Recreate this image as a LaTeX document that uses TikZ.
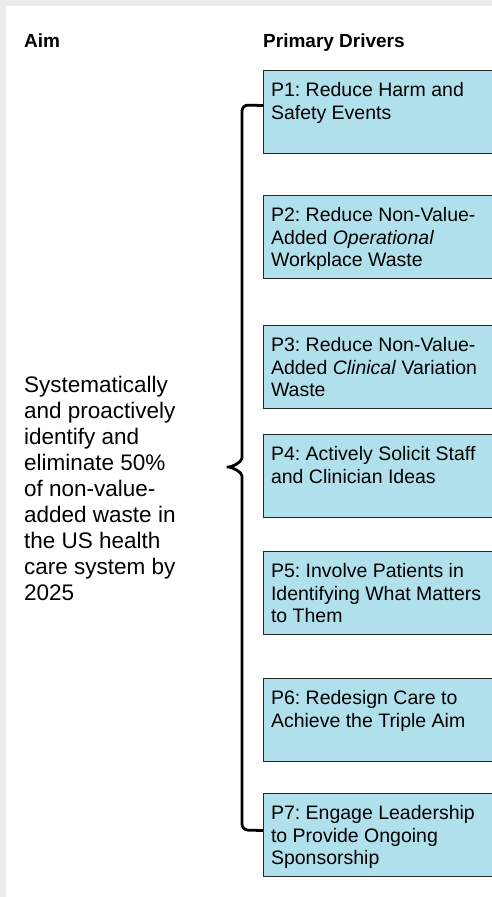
\documentclass[tikz,border=0pt]{standalone}
\usepackage{fontspec}
\setmainfont{Liberation Sans}
\usepackage{tikz}
\usetikzlibrary{positioning}
\definecolor{drvblue}{RGB}{176,224,235}
\definecolor{edgegrey}{RGB}{236,236,236}
\newcommand{\drvtext}[1]{\parbox[t][59pt][t]{225pt}{\raggedright #1}}
\frenchspacing

\begin{document}
\begin{tikzpicture}[x=1pt,y=-1pt,
    head/.style={anchor=base west,inner sep=0pt,font=\fontsize{19}{22}\selectfont\bfseries},
    aimtext/.style={anchor=north west,inner sep=0pt,align=left,font=\fontsize{22.5}{26}\selectfont},
    drv/.style={draw=black!85,fill=drvblue,line width=1pt,anchor=north west,inner xsep=7pt,inner ysep=12pt,minimum width=240pt,font=\fontsize{19.5}{22.5}\selectfont},
    brace/.style={line width=2.8pt,rounded corners=6pt}]
  \useasboundingbox (0,0) rectangle (492,897);
  \clip (0,0) rectangle (492,897);
  \fill[edgegrey] (0,0) rectangle (492,897);
  \fill[white] (6,6) rectangle (492,897);
  % headings
  \node[head] (hdAim) at (24,47) {Aim};
  \node[head] (hdDrv) at (263,47) {Primary Drivers};
  % aim
  \node[aimtext] (aim) at (24,375.5) {Systematically\\and proactively\\identify and\\eliminate 50\%\\of non-value-\\added waste in\\the US health\\care system by\\2025};
  % primary drivers
  \node[drv] (p1) at (263,70) {\drvtext{P1: Reduce Harm and\\Safety Events}};
  \node[drv] (p2) at (263,195) {\drvtext{P2: Reduce Non-Value-\\Added \textit{Operational}\\Workplace Waste}};
  \node[drv] (p3) at (263,325) {\drvtext{P3: Reduce Non-Value-\\Added \textit{Clinical} Variation\\Waste}};
  \node[drv] (p4) at (263,434) {\drvtext{P4: Actively Solicit Staff\\and Clinician Ideas}};
  \node[drv] (p5) at (263,551) {\drvtext{P5: Involve Patients in\\Identifying What Matters\\to Them}};
  \node[drv] (p6) at (263,678) {\drvtext{P6: Redesign Care to\\Achieve the Triple Aim}};
  \node[drv] (p7) at (263,793) {\drvtext{P7: Engage Leadership\\to Provide Ongoing\\Sponsorship}};
  % brace
  \coordinate (tip) at (223,467);
  \draw[brace] ([yshift=6.5pt]p1.west) -- (242,105) -- (242,452)
    .. controls (242,462) and (232,467) .. (tip)
    .. controls (232,467) and (242,472) .. (242,482)
    -- (242,830) -- ([yshift=4.5pt]p7.west);
\end{tikzpicture}
\end{document}
